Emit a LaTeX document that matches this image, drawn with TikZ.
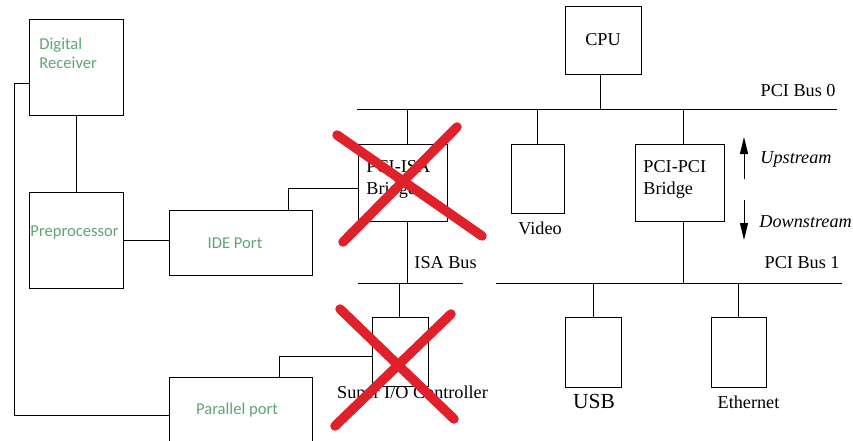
\documentclass[tikz,border=0pt]{standalone}
\usepackage{fontspec}
\setmainfont{Liberation Serif}
\newfontfamily\calibrifont{Carlito}
\usepackage{tikz}
\usetikzlibrary{arrows.meta}
\definecolor{labelgreen}{RGB}{95,165,115}
\definecolor{crossred}{RGB}{224,32,42}

\begin{document}
\begin{tikzpicture}[x=1pt, y=-1pt, line width=0.9pt,
  font=\fontsize{18.2}{22}\selectfont,
  box/.style={draw, inner sep=0pt},
  greentext/.style={labelgreen, font=\calibrifont\fontsize{16.6}{19}\selectfont, inner sep=0pt, align=left},
  boxtext/.style={inner sep=0pt, align=left},
  flowarrow/.style={-{Triangle[length=17pt,width=8pt]}},
  crossout/.style={crossred, line width=9.5pt, line cap=round}]
\useasboundingbox (0,0) rectangle (853,441);
\clip (0,0) rectangle (853,441);
% left column
\node[box, minimum width=94pt, minimum height=96pt] (dr) at (76,67) {};
\node[box, minimum width=94pt, minimum height=96pt] (pre) at (76,240) {};
\node[box, minimum width=143pt, minimum height=65pt] (ide) at (240.5,242.5) {};
\node[box, minimum width=143pt, minimum height=66pt] (par) at (240.5,410) {};
\node[greentext, anchor=west] (drtext) at (39,53.5) {Digital\\Receiver};
\node[greentext, anchor=west] (pretext) at (30,233) {Preprocessor};
\node[greentext] (idetext) at (235,243) {IDE Port};
\node[greentext] (partext) at (237,410) {Parallel port};
% PCI side
\node[box, minimum width=76pt, minimum height=68pt] (cpu) at (603,40) {CPU};
\node[box, minimum width=89pt, minimum height=77pt] (isab) at (402.5,182.5) {};
\node[box, minimum width=53pt, minimum height=69pt] (video) at (537.5,178.5) {};
\node[box, minimum width=89pt, minimum height=77pt] (ppb) at (679.5,182.5) {};
\node[box, minimum width=56pt, minimum height=69pt] (sio) at (400,351.5) {};
\node[box, minimum width=56pt, minimum height=70pt] (usb) at (593,352) {};
\node[box, minimum width=55pt, minimum height=70pt] (eth) at (738.5,352) {};
\node[boxtext, anchor=west] (isabtext) at (366,179) {PCI-ISA\\Bridge};
\node[boxtext, anchor=west] (ppbtext) at (643,179) {PCI-PCI\\Bridge};
\node (videotext) at (540,228) {Video};
\node (siotext) at (412.5,394) {Super I/O Controller};
\node[font=\fontsize{21.5}{26}\selectfont] (usbtext) at (594,401) {USB};
\node (ethtext) at (748.5,402) {Ethernet};
% buses
\coordinate (bus0w) at (357,109);
\coordinate (bus0e) at (837,109);
\coordinate (isaw) at (358,283);
\coordinate (isae) at (463,283);
\coordinate (bus1w) at (496,283);
\coordinate (bus1e) at (842,283);
\draw (bus0w) -- (bus0e);
\draw (isaw) -- (isae);
\draw (bus1w) -- (bus1e);
\node[anchor=east, inner sep=0pt] (bus0text) at (836,91) {PCI Bus 0};
\node[anchor=east, inner sep=0pt] (bus1text) at (840,263) {PCI Bus 1};
\node[anchor=west, inner sep=0pt] (isatext) at (414,263) {ISA Bus};
% drops
\draw ([xshift=-3pt]cpu.south) -- ([xshift=-3pt]cpu.south |- bus0w);
\draw ([xshift=5pt]isab.north) -- ([xshift=5pt]isab.north |- bus0w);
\draw (video.north) -- (video.north |- bus0w);
\draw ([xshift=3.5pt]ppb.north) -- ([xshift=3.5pt]ppb.north |- bus0w);
\draw ([xshift=5pt]isab.south) -- ([xshift=5pt]isab.south |- isaw);
\draw ([xshift=3.5pt]ppb.south) -- ([xshift=3.5pt]ppb.south |- bus1w);
\draw ([xshift=-1pt]sio.north) -- ([xshift=-1pt]sio.north |- isaw);
\draw (usb.north) -- (usb.north |- bus1w);
\draw (eth.north) -- (eth.north |- bus1w);
% left wiring
\draw (dr.south) -- (pre.north);
\draw (pre.east) -- (pre.east -| ide.west);
\draw ([xshift=47.5pt]ide.north) |- ([yshift=-5.5pt]isab.west);
\draw ([xshift=38.5pt]par.north) |- ([yshift=-4.5pt]sio.west);
\coordinate (loop) at (14,415);
\draw ([yshift=-16pt]dr.west) -| (loop) -- (loop -| par.west);
% direction arrows
\coordinate (upfrom) at (744,179);
\coordinate (upto) at (744,137);
\coordinate (downfrom) at (744,200);
\coordinate (downto) at (744,240);
\draw[flowarrow] (upfrom) -- (upto);
\draw[flowarrow] (downfrom) -- (downto);
\node[anchor=west, inner sep=0pt, font=\fontsize{18.2}{22}\selectfont\itshape] (uptext) at (760,159) {Upstream};
\node[anchor=west, inner sep=0pt, font=\fontsize{18.2}{22}\selectfont\itshape] (downtext) at (759,222) {Downstream};
% red crosses
\draw[crossout] (337,135) -- (482,236);
\draw[crossout] (457,127) -- (343,242);
\draw[crossout] (340,309) -- (454,419);
\draw[crossout] (451,314) -- (335,426);
\end{tikzpicture}
\end{document}
